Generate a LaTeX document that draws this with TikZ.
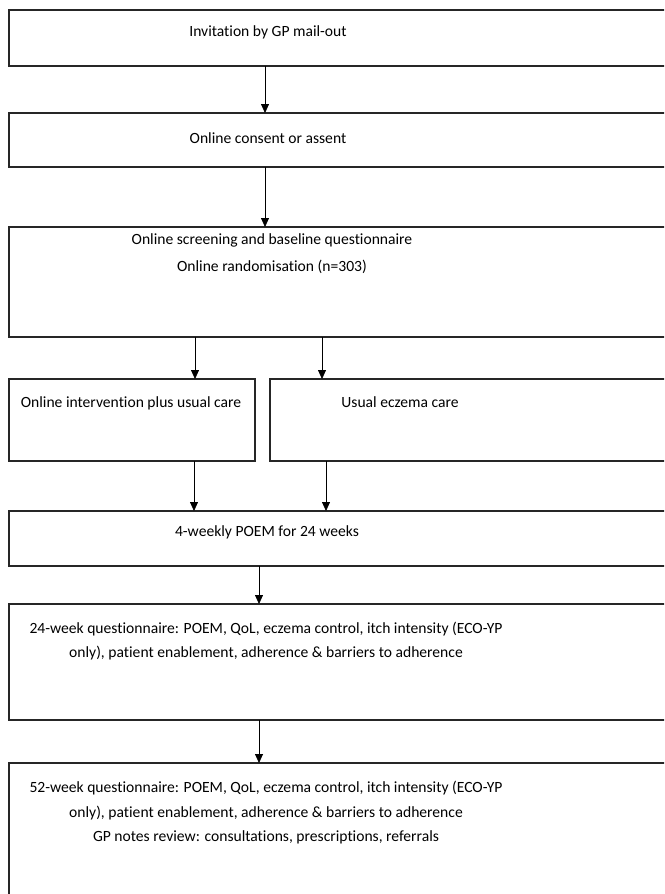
\documentclass[tikz,border=0pt]{standalone}
\usepackage{fontspec}
\setmainfont{Carlito}[Ligatures={NoCommon,NoRare,NoContextual}]
\usetikzlibrary{arrows.meta}
\begin{document}
\begin{tikzpicture}[x=1pt,y=-1pt,
  box/.style={draw=black!85,line width=1.3pt,inner sep=0pt,outer sep=0pt,anchor=north west},
  txt/.style={font=\fontsize{15.6}{24}\selectfont,inner sep=0pt,anchor=base,text=black},
  arr/.style={-{Triangle[length=9pt,width=8pt]},line width=0.8pt}]
\clip (0,0) rectangle (664,894);
\fill[white] (0,0) rectangle (664,894);
% boxes
\node[box,minimum width=671pt,minimum height=56pt]  (b1)  at (9,10)  {};
\node[box,minimum width=671pt,minimum height=54pt]  (b2)  at (9,113) {};
\node[box,minimum width=671pt,minimum height=110pt] (b3)  at (9,227) {};
\node[box,minimum width=246pt,minimum height=82pt]  (b4a) at (9,379) {};
\node[box,minimum width=410pt,minimum height=82pt]  (b4b) at (270,379) {};
\node[box,minimum width=671pt,minimum height=55pt]  (b5)  at (9,511) {};
\node[box,minimum width=671pt,minimum height=116pt] (b6)  at (9,604) {};
\node[box,minimum width=671pt,minimum height=150pt] (b7)  at (9,763) {};
% texts
\node[txt] (t1)  at (268,36)  {Invitation by GP mail-out};
\node[txt] (t2)  at (268,143) {Online consent or assent};
\node[txt] (t3a) at (272,244) {Online screening and baseline questionnaire};
\node[txt] (t3b) at (272,271) {Online randomisation (n=303)};
\node[txt] (t4a) at (131,407) {Online intervention plus usual care};
\node[txt] (t4b) at (400,407) {Usual eczema care};
\node[txt] (t5)  at (267,536) {4-weekly POEM for 24 weeks};
\node[txt] (t6a) at (266,633) {24-week questionnaire: POEM, QoL, eczema control, itch intensity (ECO-YP};
\node[txt] (t6b) at (266,657) {only), patient enablement, adherence \& barriers to adherence};
\node[txt] (t7a) at (266,792) {52-week questionnaire: POEM, QoL, eczema control, itch intensity (ECO-YP};
\node[txt] (t7b) at (266,817) {only), patient enablement, adherence \& barriers to adherence};
\node[txt] (t7c) at (266,841) {GP notes review: consultations, prescriptions, referrals};
% arrows
\draw[arr] (b1.south -| 265,0) -- (b2.north -| 265,0);
\draw[arr] (b2.south -| 265,0) -- (b3.north -| 265,0);
\draw[arr] (b3.south -| 195,0) -- (b4a.north -| 195,0);
\draw[arr] (b3.south -| 322,0) -- (b4b.north -| 322,0);
\draw[arr] (b4a.south -| 194,0) -- (b5.north -| 194,0);
\draw[arr] (b4b.south -| 326,0) -- (b5.north -| 326,0);
\draw[arr] (b5.south -| 259,0) -- (b6.north -| 259,0);
\draw[arr] (b6.south -| 259,0) -- (b7.north -| 259,0);
\end{tikzpicture}
\end{document}
